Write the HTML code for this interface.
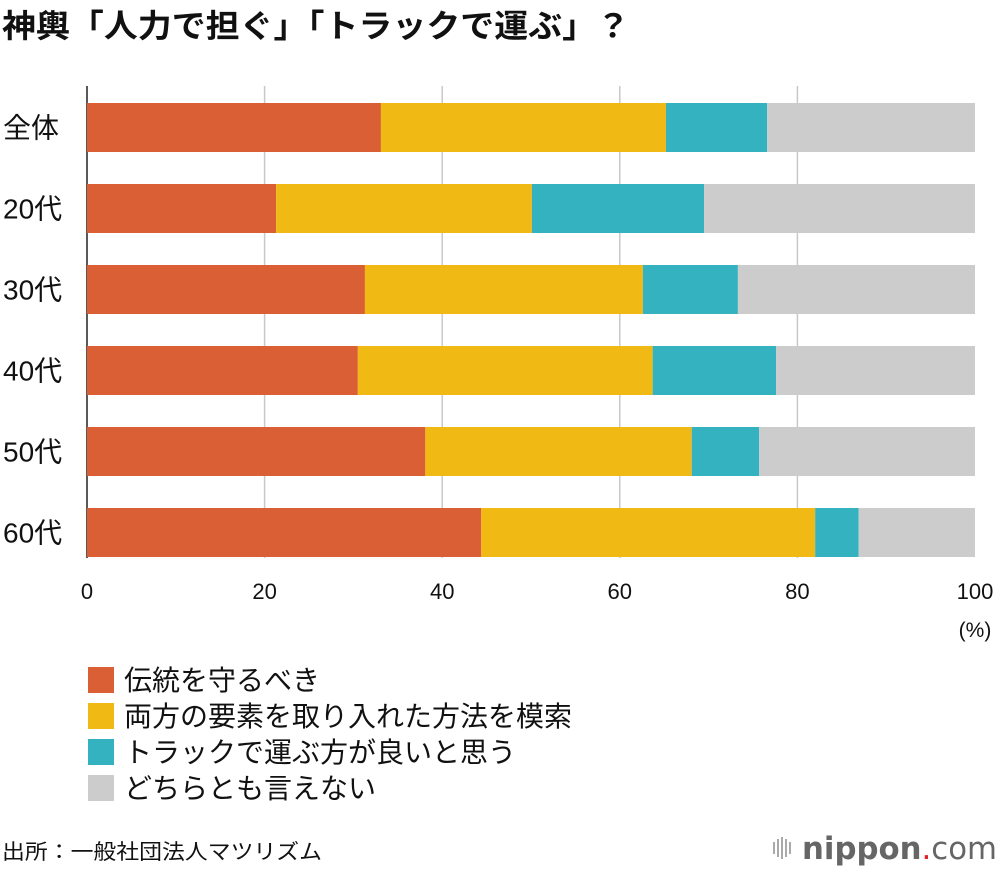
<!DOCTYPE html>
<html><head><meta charset="utf-8">
<style>
body{margin:0;background:#fff;}
svg{display:block;font-family:"Liberation Sans","Noto Sans CJK JP",sans-serif;}
</style></head>
<body>
<svg id="chart" width="1000" height="870" viewBox="0 0 1000 870">
<text x="2" y="37" font-size="32" font-weight="bold" fill="#111" textLength="628" lengthAdjust="spacingAndGlyphs">神輿「人力で担ぐ」「トラックで運ぶ」？</text>
<g id="grid"></g>
<g id="bars"></g>
<g id="ylabels"></g>
<g id="xticks"></g>
<text x="975" y="637" font-size="21" text-anchor="middle" fill="#111">(%)</text>
<g id="legend"></g>
<text x="2" y="859" font-size="21" fill="#111" textLength="320" lengthAdjust="spacingAndGlyphs">出所：一般社団法人マツリズム</text>
<g>
<rect x="773" y="842" width="2" height="12" fill="#aaa"/><rect x="777" y="839" width="2" height="18" fill="#aaa"/><rect x="781" y="837" width="2" height="22" fill="#aaa"/><rect x="785" y="839" width="2" height="18" fill="#aaa"/><rect x="789" y="842" width="2" height="12" fill="#aaa"/>
<text x="802" y="859" font-size="31" fill="#666" textLength="195" lengthAdjust="spacingAndGlyphs" font-family="DejaVu Sans, sans-serif"><tspan font-weight="bold">nippon</tspan><tspan fill="#e02020">.</tspan><tspan>com</tspan></text>
</g>
</svg>
<script>
const categories=["全体","20代","30代","40代","50代","60代"];
const seriesNames=["伝統を守るべき","両方の要素を取り入れた方法を模索","トラックで運ぶ方が良いと思う","どちらとも言えない"];
const traditional=[33.1,21.3,31.3,30.5,38.1,44.4];
const both=[32.1,28.8,31.3,33.2,30.0,37.6];
const truck=[11.4,19.4,10.7,13.9,7.6,4.9];
const neither=[23.4,30.5,26.7,22.4,24.3,13.1];
const xTicks=[0,20,40,60,80,100];
const colors=["#db5f34","#f0b914","#35b2bf","#cccccc"];
const NS="http://www.w3.org/2000/svg";
const x=v=>87+v*8.88;
const yTop=i=>103+i*81;
const barH=49;
function el(tag,attrs,parent,text){const e=document.createElementNS(NS,tag);for(const k in attrs)e.setAttribute(k,attrs[k]);if(text!==undefined)e.textContent=text;parent.appendChild(e);return e;}
const grid=document.getElementById('grid'),bars=document.getElementById('bars'),yl=document.getElementById('ylabels'),xt=document.getElementById('xticks'),lg=document.getElementById('legend');
xTicks.forEach(t=>{
  if(t>0&&t<100){const g=el('line',{x1:x(t),x2:x(t),y1:86,y2:558,stroke:'#c8c8c8','stroke-width':1.5},grid);
  
  }
  const tx=el('text',{x:x(t),y:599,'font-size':22,'text-anchor':'middle',fill:'#111'},xt,String(t));
  
  
});
const ax=el('line',{x1:87,x2:87,y1:86,y2:558,stroke:'#222','stroke-width':1.5},grid);


const series=[traditional,both,truck,neither];
categories.forEach((c,i)=>{
  let acc=0;
  series.forEach((s,k)=>{
    const r=el('rect',{x:x(acc),y:yTop(i),width:s[i]*8.88,height:barH,fill:colors[k]},bars);
    
    
    acc+=s[i];
  });
  const t=el('text',{x:3,y:yTop(i)+barH/2+10,'font-size':28,fill:'#111'},yl,c);
  
  
});
seriesNames.forEach((n,k)=>{
  const y=667+k*36;
  const r=el('rect',{x:88,y:y,width:26,height:26,fill:colors[k]},lg);
  
  
  const t=el('text',{x:124,y:y+23,'font-size':28,fill:'#111'},lg,n);
  
  
});
</script>
</body></html>
